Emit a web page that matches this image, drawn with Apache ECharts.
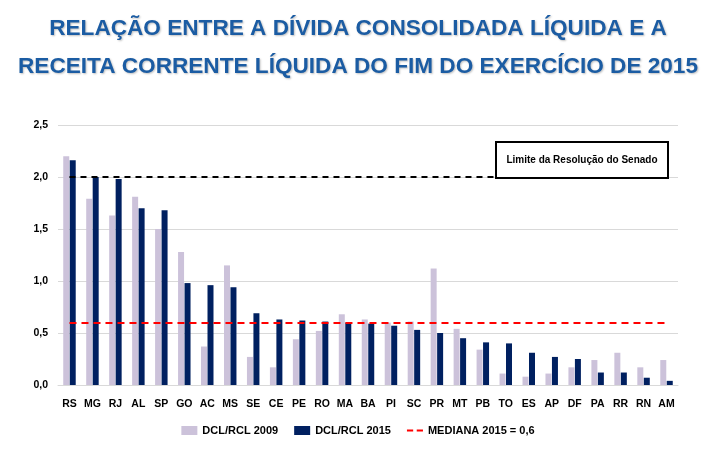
<!DOCTYPE html>
<html><head><meta charset="utf-8">
<script src="https://cdn.jsdelivr.net/npm/echarts@6/dist/echarts.min.js"></script>
<style>html,body{margin:0;padding:0;background:#fff}#c{width:716px;height:450px}</style>
</head><body><div id="c"></div>
<script>
const categories = ['RS','MG','RJ','AL','SP','GO','AC','MS','SE','CE','PE','RO','MA','BA','PI','SC','PR','MT','PB','TO','ES','AP','DF','PA','RR','RN','AM'];
const dcl2009 = [2.20,1.79,1.63,1.81,1.50,1.28,0.37,1.15,0.27,0.17,0.44,0.52,0.68,0.63,0.60,0.61,1.12,0.54,0.34,0.11,0.08,0.11,0.17,0.24,0.31,0.17,0.24];
const dcl2015 = [2.16,2.00,1.98,1.70,1.68,0.98,0.96,0.94,0.69,0.63,0.62,0.61,0.60,0.59,0.57,0.53,0.50,0.45,0.41,0.40,0.31,0.27,0.25,0.12,0.12,0.07,0.04];
const yTicks = [0, 0.5, 1.0, 1.5, 2.0, 2.5];
const medianValue = 0.6;
const limitValue = 2.0;
const titleText = 'RELAÇÃO ENTRE A DÍVIDA CONSOLIDADA LÍQUIDA E A\nRECEITA CORRENTE LÍQUIDA DO FIM DO EXERCÍCIO DE 2015';
const limitLabel = 'Limite da Resolução do Senado';
const seriesNames = ['DCL/RCL 2009','DCL/RCL 2015','MEDIANA 2015 = 0,6'];

const FONT = '"Liberation Sans",Arial,sans-serif';
const chart = echarts.init(document.getElementById('c'));
const first = categories[0], last = categories[categories.length-1];
chart.setOption({
  animation:false,
  textStyle:{fontFamily:FONT},
  title:{text:titleText,left:353,textAlign:'center',top:5,textStyle:{fontFamily:FONT,fontSize:22.6,fontWeight:'bold',color:'#1B5CA3',lineHeight:38,textShadowColor:'rgba(0,0,0,0.25)',textShadowBlur:2,textShadowOffsetX:1,textShadowOffsetY:1}},
  grid:{left:58,right:38,top:125,bottom:65},
  legend:{bottom:9,left:'center',itemGap:16,itemWidth:16,itemHeight:9,textStyle:{fontFamily:FONT,fontSize:11,fontWeight:'bold',color:'#000'},
    data:[{name:seriesNames[0],icon:'rect'},{name:seriesNames[1],icon:'rect'},{name:seriesNames[2],icon:'path://M0,4h7v2h-7z M11,4h7v2h-7z',itemStyle:{color:'#FF0000'}}]},
  xAxis:{type:'category',data:categories,axisTick:{show:false},axisLine:{lineStyle:{color:'#D9D9D9'}},
    axisLabel:{margin:14,fontSize:10.5,fontWeight:'bold',color:'#000',fontFamily:FONT,interval:0}},
  yAxis:{type:'value',min:0,max:2.5,interval:0.5,axisLabel:{fontSize:10.5,fontWeight:'bold',color:'#000',fontFamily:FONT,margin:10,formatter:v=>v.toFixed(1).replace('.',',')},
    splitLine:{lineStyle:{color:'#D9D9D9',width:1}},axisLine:{show:false},axisTick:{show:false}},
  series:[
    {name:seriesNames[0],type:'bar',data:dcl2009,barWidth:6,barGap:'8%',itemStyle:{color:'#CCC2DA'}},
    {name:seriesNames[1],type:'bar',data:dcl2015,barWidth:6,barGap:'8%',itemStyle:{color:'#002060'}},
    {name:seriesNames[2],type:'line',data:[],itemStyle:{color:'#FF0000'},lineStyle:{color:'#FF0000'},
      markLine:{silent:true,symbol:'none',label:{show:false},
        data:[
          [{coord:[first,medianValue],lineStyle:{color:'#FF0000',type:[7,5],width:2}},{coord:[last,medianValue]}],
          [{coord:[first,limitValue],lineStyle:{color:'#000000',type:[6,5],width:2}},{coord:[last,limitValue]}]
        ]}}
  ],
  graphic:[{type:'group',left:495,top:141,children:[
    {type:'rect',shape:{x:0,y:0,width:172,height:36},style:{fill:'#fff',stroke:'#000',lineWidth:2},z:10},
    {type:'text',style:{x:86,y:18,text:limitLabel,align:'center',verticalAlign:'middle',font:'bold 10px '+FONT,fill:'#000'},z:11}
  ]}]
});
</script></body></html>
